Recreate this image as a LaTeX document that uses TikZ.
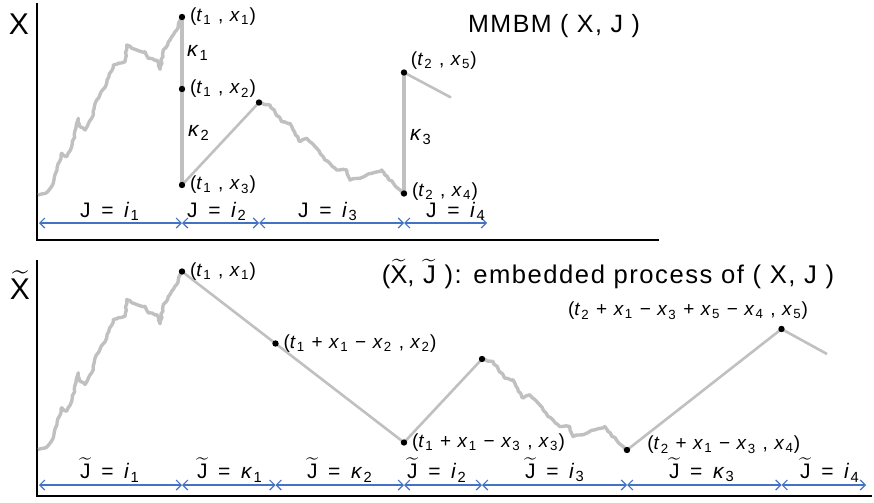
\documentclass[tikz,border=0pt]{standalone}
\usepackage{amsmath}
\usepackage{fontspec}
\setmainfont{Liberation Sans}[LetterSpace=6]
\usepackage{xcolor}
\usepackage{tikz}
\usetikzlibrary{arrows.meta,decorations.pathmorphing,positioning}

\definecolor{walkgray}{RGB}{192,192,192}
\definecolor{spanblue}{RGB}{68,114,196}

\newcommand{\vt}[1]{\textit{t}\textsubscript{#1}}
\newcommand{\vx}[1]{\textit{x}\textsubscript{#1}}
\newcommand{\vk}[1]{\textit{κ}\textsubscript{#1}}
\newcommand{\vi}[1]{\textit{i}\textsubscript{#1}}
\newcommand{\tl}[1]{$\widetilde{\mbox{#1}}$}

\begin{document}
\begin{tikzpicture}[x=0.5pt,y=-0.5pt,font=\fontsize{9.5}{11}\selectfont,
  walk/.style={walkgray, line width=1.7pt, line join=round, decorate,
    decoration={random steps, segment length=1.6pt, amplitude=0.45pt}},
  seg/.style={walkgray, line width=1.3pt},
  dot/.style={circle, fill=black, inner sep=0pt, minimum size=3.2pt},
  axis/.style={line width=1.4pt},
  span/.style={spanblue, line width=0.6pt,
    {Straight Barb[length=2.5pt,width=5pt]}-{Straight Barb[length=2.5pt,width=5pt]}},
  lab/.style={inner sep=1pt},
  spanlab/.style={font=\fontsize{10.5}{12}\selectfont},
  title/.style={font=\fontsize{12.5}{14}\selectfont}]
\useasboundingbox (0,0) rectangle (874,503);

% axes
\coordinate (top1) at (37,3);
\coordinate (end1) at (659,240);
\coordinate (top2) at (37,260);
\coordinate (end2) at (872,496);
\draw[axis] (top1) |- (end1);
\draw[axis] (top2) |- (end2);
\node[font=\fontsize{15}{17}\selectfont] (ylab1) at (19,24) {X};
\node[font=\fontsize{15}{17}\selectfont] (ylab2) at (20,285) {\tl{X}};

% points
\coordinate (a1) at (182,17);
\coordinate (a2) at (182,89);
\coordinate (a3) at (182,185);
\coordinate (a4) at (259,102.5);
\coordinate (a5) at (404,193.5);
\coordinate (a6) at (404,72.5);
\coordinate (a7) at (451,97.5);
\coordinate (b1) at (182,271.5);
\coordinate (b2) at (275.5,343.5);
\coordinate (b3) at (404,442.5);
\coordinate (b4) at (482,359);
\coordinate (b5) at (627,450);
\coordinate (b6) at (781.5,329);
\coordinate (b7) at (827,354);

% Brownian pieces, same shape in both panels
\foreach \dy in {0,254.5} {
  \pgfmathsetseed{11}
  \draw[walk,shift={(0,\dy)}] (38,195) -- (46.7,192.7) -- (53.3,183.3) -- (61.7,153.3)
    -- (66.7,156.7) -- (71.7,146.7) -- (78.3,118.3) -- (80,126.7) -- (85,130)
    -- (91.7,118.3) -- (96.7,100) -- (106.7,83.3) -- (113.3,65) -- (118.3,63.3)
    -- (125,61.7) -- (126.7,45) -- (136.7,50) -- (145,51.7) -- (148.3,58.3)
    -- (156.7,60) -- (160,69.3) -- (163.3,50) -- (170,40) -- (176.7,30) -- (182,17);
}
\foreach \dx/\dy in {0/0,223/256.5} {
  \pgfmathsetseed{5}
  \draw[walk,shift={(\dx,\dy)}] (259,102.5) -- (270,105) -- (281.7,121.7) -- (290,123.3)
    -- (300,141.7) -- (306.7,138.3) -- (316.7,148.3) -- (325,160) -- (336.7,170)
    -- (346.7,170) -- (350,180) -- (365,176) -- (381.7,170) -- (385,175)
    -- (393.3,183.3) -- (404,193.5);
}

% jumps and fluid pieces
\draw[seg, line width=1.6pt] (a1) -- (a3);
\draw[seg] (a3) -- (a4);
\draw[seg, line width=1.6pt] (a5) -- (a6);
\draw[seg] (a6) -- (a7);
\draw[seg] (b1) -- (b3);
\draw[seg] (b3) -- (b4);
\draw[seg] (b5) -- (b6);
\draw[seg] (b6) -- (b7);

\foreach \p in {a1,a2,a3,a4,a5,a6,b1,b2,b3,b4,b5,b6}
  \node[dot] (\p-dot) at (\p) {};

% point labels
\node[lab, right=1pt of a1-dot] (la1) {(\vt{1} , \vx{1})};
\node[lab, right=1pt of a2-dot] (la2) {(\vt{1} , \vx{2})};
\node[lab, right=1pt of a3-dot] (la3) {(\vt{1} , \vx{3})};
\node[lab, right=1pt of a5-dot, yshift=1pt] (la5) {(\vt{2} , \vx{4})};
\node[lab, above right=-1pt and 1pt of a6-dot] (la6) {(\vt{2} , \vx{5})};
\node[lab, right=1pt of b1-dot] (lb1) {(\vt{1} , \vx{1})};
\node[lab, right=1pt of b2-dot] (lb2) {(\vt{1} + \vx{1} − \vx{2} , \vx{2})};
\node[lab, right=1pt of b3-dot] (lb3) {(\vt{1} + \vx{1} − \vx{3} , \vx{3})};
\node[lab, anchor=west] (lb5) at (645,445) {(\vt{2} + \vx{1} − \vx{3} , \vx{4})};
\node[lab] (lb6) at (688,311) {(\vt{2} + \vx{1} − \vx{3} + \vx{5} − \vx{4} , \vx{5})};

\node[spanlab] (k1) at (198,53) {\vk{1}};
\node[spanlab] (k2) at (199,133) {\vk{2}};
\node[spanlab] (k3) at (421,137) {\vk{3}};

% titles
\node[title] (ttl1) at (554,26) {MMBM ( X, J )};
\node[title, font=\fontsize{12.8}{14}\selectfont] (ttl2) at (608,274) {(\tl{X}, \tl{J} ): embedded process of ( X, J )};

% regime spans
\foreach \x [count=\i] in {39,182,259,404,487}
  \coordinate (u\i) at (\x,223);
\foreach \i/\j in {1/2,2/3,3/4,4/5}
  \draw[span] (u\i) -- (u\j);
\foreach \x/\v [count=\i] in {110/1,217/2,328/3,456/4}
  \node[spanlab] (sj\i) at (\x,211.5) {J \,=\, \vi{\v}};

\foreach \x [count=\i] in {39,182,275.5,404,482,627,781.5,866}
  \coordinate (w\i) at (\x,485);
\foreach \i/\j in {1/2,2/3,3/4,4/5,5/6,6/7,7/8}
  \draw[span] (w\i) -- (w\j);
\foreach \x/\v [count=\i] in {110/{\vi{1}},230/{\vk{1}},340/{\vk{2}},437/{\vi{2}},555/{\vi{3}},702/{\vk{3}},830/{\vi{4}}}
  \node[spanlab] (tj\i) at (\x,470) {\tl{J} \,=\, \v};
\end{tikzpicture}
\end{document}
